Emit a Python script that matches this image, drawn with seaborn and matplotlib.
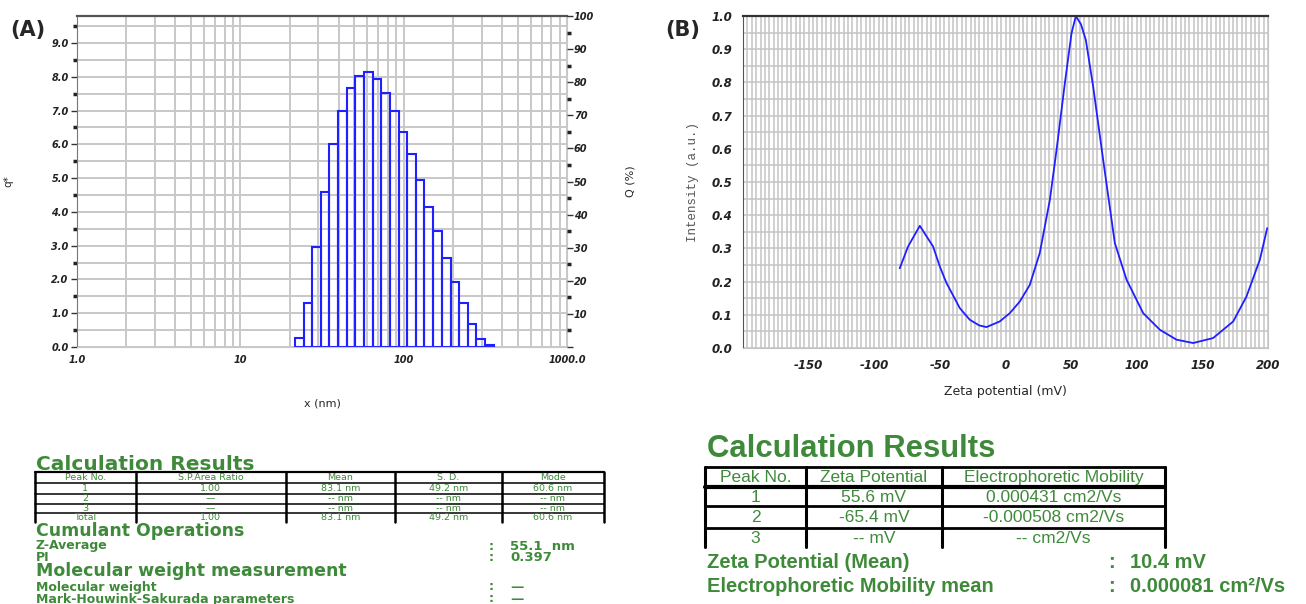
import numpy as np
import pandas as pd
import seaborn as sns
import matplotlib.pyplot as plt
from matplotlib.ticker import (FixedLocator, FixedFormatter, MultipleLocator,
                               LogLocator, NullFormatter, FuncFormatter)

# ---------------- data ----------------
# (A) particle size distribution, bin edges in nm and q* per bin
size_edges = [21.6, 24.4, 27.5, 31.1, 35.1, 39.7, 44.8, 50.6, 57.2, 64.6, 73.0, 82.5,
              93.2, 105, 119, 134, 152, 171, 194, 219, 247, 279, 315, 356]
q_values = [0.28, 1.31, 2.95, 4.60, 6.00, 7.00, 7.68, 8.02, 8.13, 7.94, 7.52, 7.00,
            6.38, 5.71, 4.93, 4.15, 3.44, 2.64, 1.92, 1.31, 0.69, 0.24, 0.05]

# (B) zeta potential distribution
zeta_mv = [-80.6, -74.2, -65.3, -55.2, -50.1, -45.0, -34.8, -27.2, -20.0, -14.5, -4.4,
           3.3, 10.9, 18.5, 26.1, 33.8, 38.9, 45.2, 50.3, 53.6, 57.5, 61.2, 66.8, 74.4,
           83.3, 92.2, 104.9, 117.6, 130.3, 143.0, 158.2, 173.5, 183.6, 193.8, 199.4]
intensity = [0.24, 0.306, 0.368, 0.306, 0.246, 0.196, 0.12, 0.085, 0.068, 0.063, 0.08,
             0.105, 0.14, 0.19, 0.286, 0.446, 0.597, 0.797, 0.948, 1.0, 0.975, 0.928, 0.787,
             0.567, 0.316, 0.206, 0.105, 0.055, 0.025, 0.015, 0.03, 0.08, 0.155, 0.266, 0.361]

# tables
tabA_header = ["Peak No.", "S.P.Area Ratio", "Mean", "S. D.", "Mode"]
tabA_rows = [["1", "1.00", "83.1 nm", "49.2 nm", "60.6 nm"],
             ["2", "—", "-- nm", "-- nm", "-- nm"],
             ["3", "—", "-- nm", "-- nm", "-- nm"],
             ["Total", "1.00", "83.1 nm", "49.2 nm", "60.6 nm"]]
tabA_extra = [("Cumulant Operations", None), ("Z-Average", "55.1  nm"), ("PI", "0.397"),
              ("Molecular weight measurement", None), ("Molecular weight", "—"),
              ("Mark-Houwink-Sakurada parameters", "—")]

tabB_header = ["Peak No.", "Zeta Potential", "Electrophoretic Mobility"]
tabB_rows = [["1", "55.6 mV", "0.000431 cm2/Vs"],
             ["2", "-65.4 mV", "-0.000508 cm2/Vs"],
             ["3", "-- mV", "-- cm2/Vs"]]
tabB_extra = [("Zeta Potential (Mean)", "10.4 mV"),
              ("Electrophoretic Mobility mean", "0.000081 cm\u00b2/Vs")]

# ---------------- style ----------------
sns.set_style("white")
plt.rcParams['font.family'] = ['DejaVu Sans']
plt.rcParams['axes.unicode_minus'] = False

W, H = 1306, 604
fig = plt.figure(figsize=(W / 100, H / 100), dpi=100)

blue = "#1f1fff"
green = "#3f8a3a"
grid_kw = dict(color="#c8c8c8", linewidth=1.4)


def style_ticklabels(ax, size):
    for lab in ax.get_xticklabels() + ax.get_yticklabels():
        lab.set_fontstyle("italic")
        lab.set_fontweight("bold")
        lab.set_fontsize(size)
        lab.set_color("#222222")


# ---------------- panel A ----------------
axA = fig.add_axes([77 / W, 1 - 347 / H, 490 / W, 331 / H])
lo = np.array(size_edges[:-1])
hi = np.array(size_edges[1:])
dist = pd.DataFrame({"size": np.sqrt(lo * hi), "q": q_values})
sns.histplot(data=dist, x="size", weights="q", bins=list(np.log10(size_edges)),
             log_scale=True, fill=False, color=blue, linewidth=1.5, ax=axA)
axA.set_xlim(1, 1000)
axA.set_ylim(0, 9.8)
axA.yaxis.set_major_locator(MultipleLocator(1))
axA.yaxis.set_minor_locator(MultipleLocator(0.5))
axA.yaxis.set_major_formatter(FuncFormatter(lambda v, p: f"{v:.1f}"))
axA.xaxis.set_major_locator(FixedLocator([1, 10, 100, 1000]))
axA.xaxis.set_major_formatter(FixedFormatter(["1.0", "10", "100", "1000.0"]))
axA.xaxis.set_minor_locator(LogLocator(base=10, subs=np.arange(2, 10)))
axA.xaxis.set_minor_formatter(NullFormatter())
axA.grid(True, which="both", **grid_kw)
axA.set_axisbelow(True)
axA.tick_params(axis="both", which="major", direction="out", length=4, width=1,
                color="#333333", pad=2)
axA.tick_params(axis="both", which="minor", direction="out", length=3, width=2.5,
                color="#222222")
axA.set_xlabel("x (nm)", fontsize=8)
axA.set_ylabel("q*", fontsize=7.5)
axA.xaxis.set_label_coords(0.5, -0.155)
axA.yaxis.set_label_coords(-0.13, 0.5)
for s in ["bottom", "right"]:
    axA.spines[s].set_color("#c8c8c8")
axA.spines["top"].set_color("#555555")
axA.spines["top"].set_linewidth(1.6)
axA.spines["left"].set_color("#777777")
style_ticklabels(axA, 7)

axQ = axA.twinx()
axQ.set_ylim(0, 100)
axQ.yaxis.set_major_locator(MultipleLocator(10))
axQ.yaxis.set_minor_locator(MultipleLocator(5))
axQ.yaxis.set_major_formatter(FuncFormatter(lambda v, p: "" if v == 0 else f"{v:.0f}"))
axQ.tick_params(axis="y", which="major", direction="out", length=4, width=1,
                color="#333333", pad=1)
axQ.tick_params(axis="y", which="minor", direction="out", length=3, width=2.5,
                color="#222222")
axQ.set_ylabel("Q (%)", fontsize=8)
axQ.yaxis.set_label_coords(1.12, 0.5)
for s in axQ.spines.values():
    s.set_visible(False)
style_ticklabels(axQ, 7)

# ---------------- panel B ----------------
axB = fig.add_axes([743 / W, 1 - 348 / H, 525 / W, 332 / H])
sns.lineplot(x=zeta_mv, y=intensity, color=blue, linewidth=1.3, ax=axB)
axB.set_xlim(-200, 200)
axB.set_ylim(0, 1.0)
axB.xaxis.set_major_locator(FixedLocator([-150, -100, -50, 0, 50, 100, 150, 200]))
axB.xaxis.set_minor_locator(FixedLocator(np.linspace(-200, 200, 121)))
axB.yaxis.set_major_locator(MultipleLocator(0.1))
axB.yaxis.set_minor_locator(MultipleLocator(0.05))
axB.yaxis.set_major_formatter(FuncFormatter(lambda v, p: f"{v:.1f}"))
axB.grid(True, which="both", color="#c4c4c4", linewidth=1.1)
axB.set_axisbelow(True)
axB.tick_params(axis="both", which="major", direction="out", length=5, width=1,
                color="#222222", pad=3)
axB.tick_params(axis="x", which="minor", direction="out", length=3, width=1.8,
                color="#222222")
axB.tick_params(axis="y", which="minor", direction="out", length=3, width=2.2,
                color="#222222")
axB.set_xlabel("Zeta potential (mV)", fontsize=9)
axB.set_ylabel("Intensity (a.u.)", fontsize=9, family="Liberation Mono",
               color="#555555")
axB.xaxis.set_label_coords(0.5, -0.11)
axB.yaxis.set_label_coords(-0.083, 0.5)
for s in ["bottom", "right"]:
    axB.spines[s].set_color("#c4c4c4")
axB.spines["top"].set_color("#333333")
axB.spines["top"].set_linewidth(1.6)
axB.spines["left"].set_color("#555555")
style_ticklabels(axB, 8.5)

# ---------------- overlay: panel letters and tables ----------------
bg = fig.add_axes([0, 0, 1, 1], zorder=5)
bg.set_xlim(0, W)
bg.set_ylim(H, 0)
bg.axis("off")
bg.patch.set_alpha(0)

bg.text(10, 30, "(A)", fontsize=15, weight="bold", va="center", ha="left")
bg.text(665, 30, "(B)", fontsize=15, weight="bold", va="center", ha="left")

# table A
bg.text(36, 464, "Calculation Results", fontsize=14.5, weight="bold", color=green,
        va="center", ha="left")
colsA = [35, 135.5, 286, 395, 501.7, 604]
linesA = [471.5, 482.5, 493.5, 503.5, 513]
centersA = [477.2, 488.2, 498.7, 508.4, 518]
for i, y in enumerate(linesA):
    bg.plot([colsA[0], colsA[-1]], [y, y], color="black", lw=1.6 if i == 0 else 1.1)
for x in colsA:
    bg.plot([x, x], [linesA[0], 522], color="black", lw=1.8)
for r, row in enumerate([tabA_header] + tabA_rows):
    for c, txt in enumerate(row):
        bg.text((colsA[c] + colsA[c + 1]) / 2, centersA[r], txt, fontsize=6.8,
                color=green, ha="center", va="center")
yA = [531, 546, 557.5, 571.5, 587, 599]
for (label, value), y in zip(tabA_extra, yA):
    big = value is None
    bg.text(36, y, label, fontsize=12.5 if big else 9, weight="bold", color=green,
            ha="left", va="center")
    if not big:
        bg.text(489, y, ":", fontsize=9, weight="bold", color=green, ha="left", va="center")
        bg.text(510, y, value, fontsize=9.5, weight="bold", color=green, ha="left",
                va="center")

# table B
sansB = ["Liberation Sans", "DejaVu Sans"]
bg.text(707, 449, "Calculation Results", fontsize=22.4, family=sansB, weight="bold",
        color=green, ha="left", va="center")
colsB = [705, 806, 941.7, 1165]
linesB = [466.7, 486.7, 506, 528]
centersB = [477.5, 497, 517.5, 538.5]
for i, y in enumerate(linesB):
    bg.plot([colsB[0], colsB[-1]], [y, y], color="black", lw=3.0 if i == 1 else 2.0)
for x in colsB:
    bg.plot([x, x], [linesB[0], 547], color="black", lw=2.2)
for r, row in enumerate([tabB_header] + tabB_rows):
    for c, txt in enumerate(row):
        bg.text((colsB[c] + colsB[c + 1]) / 2, centersB[r], txt, fontsize=12.5,
                family=sansB, color=green, ha="center", va="center")
for (label, value), y in zip(tabB_extra, [563, 586.5]):
    bg.text(707, y, label, fontsize=14.5, family=sansB, weight="bold", color=green,
            ha="left", va="center")
    bg.text(1108, y, ":", fontsize=14.5, family=sansB, weight="bold", color=green,
            ha="left", va="center")
    bg.text(1130, y, value, fontsize=14.5, family=sansB, weight="bold", color=green,
            ha="left", va="center")

fig.savefig("out.png", dpi=100)
